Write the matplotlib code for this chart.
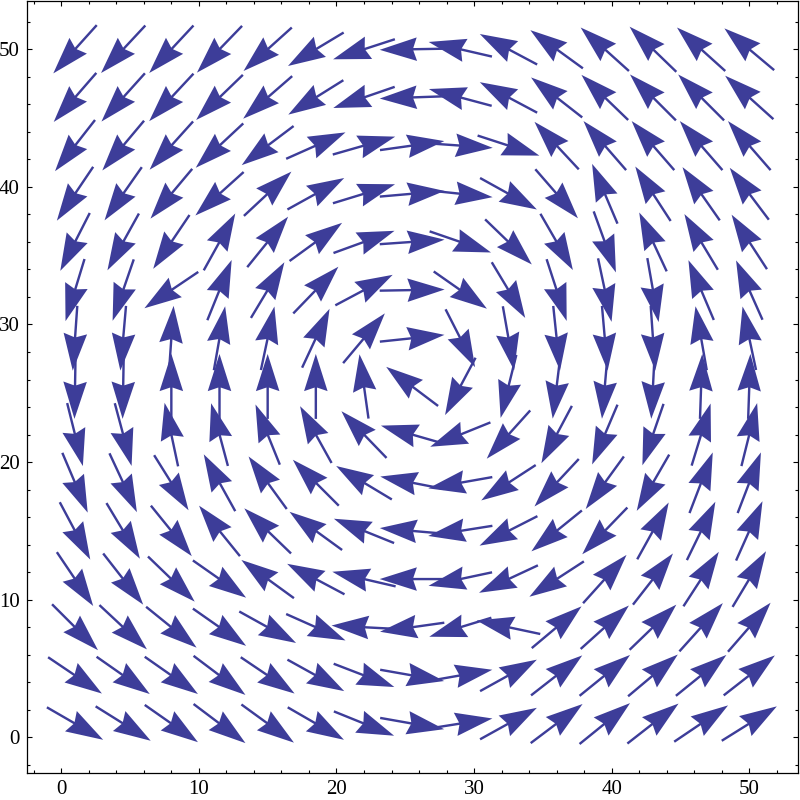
import numpy as np
import matplotlib.pyplot as plt
from matplotlib.ticker import MultipleLocator

# grid of arrow centres (rows listed from top to bottom)
x_pos = [1, 4.5, 8, 11.5, 15, 18.5, 22, 25.5, 29, 32.5, 36, 39.5, 43, 46.5, 50]
y_pos = [50, 46.5, 43, 39.5, 36, 32.5, 29, 25.5, 22, 18.5, 15, 11.5, 8, 4.5, 1]

# arrow direction in degrees (0 = right, 90 = up)
angles = [
    [228, 227, 227, 226, 222, 211, 198, 181, 167, 152, 144, 138, 136, 138, 140],
    [229, 228, 227, 224, 221, 212, 199, 182, 165, 152, 142, 136, 135, 135, 138],
    [232, 230, 228, 223, 217, 24, 16, 8, -4, -18, 133, 131, 131, 131, 131],
    [236, 235, 230, 222, 43, 29, 17, 5, -6, -29, -49, 113, 123, 125, 127],
    [243, 241, 236, 61, 51, 36, 20, 4, -19, -44, -60, -70, 115, 121, 123],
    [253, 251, 214, 68, 59, 46, 28, 1, -35, -59, -72, -78, -80, 113, 114],
    [266, 265, 86, 80, 78, 65, 50, 6, -63, -80, -84, -85, -86, 100, 102],
    [269, 269, 90, 90, 90, 90, 98, 143, 242, 256, 263, 265, 267, 88, 88],
    [-76, -75, 102, 105, 112, 119, 134, 164, 202, 228, 242, 247, 251, 73, 76],
    [-67, -65, -58, 119, 126, 135, 149, 169, 190, 213, 227, 234, 240, 69, 69],
    [-62, -59, -51, 129, 136, 144, 158, 175, 189, 207, 219, 226, 61, 64, 66],
    [-56, -52, -44, -35, 144, 152, 167, 180, 192, 205, 213, 48, 52, 57, 59],
    [-45, -43, -39, -35, -29, -24, 177, 188, 197, 168, 40, 42, 44, 48, 49],
    [-34, -35, -35, -37, -34, -29, -21, -10, 10, 29, 38, 39, 40, 39, 38],
    [-30, -32, -35, -37, -36, -30, -22, -10, 9, 29, 37, 39, 38, 34, 32],
]
ARROW_LEN = 4.72

plt.rcParams['font.family'] = ['Liberation Serif', 'DejaVu Serif']

fig = plt.figure(figsize=(8, 8), dpi=100)
ax = fig.add_axes([0.0334, 0.0338, 0.9641, 0.965])

X, Y = np.meshgrid(x_pos, y_pos)
ang = np.radians(np.array(angles, dtype=float))
U = ARROW_LEN * np.cos(ang)
V = ARROW_LEN * np.sin(ang)

ax.quiver(X, Y, U, V, angles='xy', scale_units='xy', scale=1, pivot='middle',
          units='dots', width=2.4, headwidth=9.8, headlength=15.5,
          headaxislength=14, color='#3d3d99')

ax.set_xlim(-2.51, 53.54)
ax.set_ylim(-2.59, 53.51)
ax.set_xticks(range(0, 51, 10))
ax.set_yticks(range(0, 51, 10))
ax.xaxis.set_minor_locator(MultipleLocator(2))
ax.yaxis.set_minor_locator(MultipleLocator(2))
ax.tick_params(which='both', direction='in', top=True, right=True, width=0.8)
ax.tick_params(which='major', length=3.8, labelsize=15, pad=5)
ax.tick_params(which='minor', length=2.4)
for s in ax.spines.values():
    s.set_linewidth(0.9)

plt.savefig("out.png", dpi=100)
